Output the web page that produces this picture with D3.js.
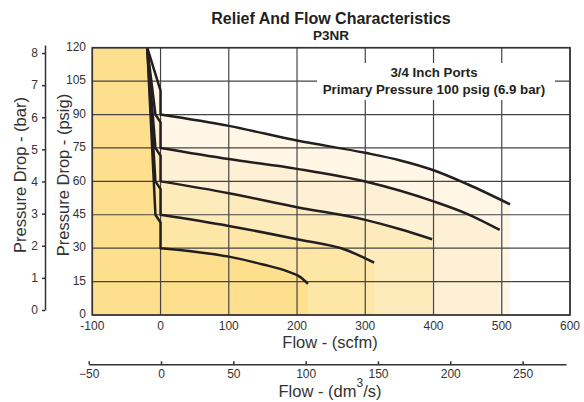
<!DOCTYPE html>
<html lang="en">
<head>
    <meta charset="UTF-8">
    <title>Relief And Flow Characteristics - P3NR</title>
    <script src="https://cdn.jsdelivr.net/npm/d3@7"></script>
    <style>
        body{margin:0;background:#fff;}
        text{
            font-family: "Liberation Sans", Arial, sans-serif;
            fill: #333;
        }
    </style>
</head>
<body>
<div class="container"></div>
<script>
    ////////////////////////////////////////////////////////////////
    /*                     Data                */
    ////////////////////////////////////////////////////////////////

    const psiTicks = [0, 15, 30, 45, 60, 75, 90, 105, 120]
    const barTicks = [0, 1, 2, 3, 4, 5, 6, 7, 8]
    const scfmTicks = [-100, 0, 100, 200, 300, 400, 500, 600]
    const dm3Ticks = [-50, 0, 50, 100, 150, 200, 250]

    // relief part of each curve [scfm, psig]
    const relief30 = [[-19.5,120],[-7.5,45],[0,41.5],[0,30]]
    const relief45 = [[-19.5,120],[-7.5,60],[0,56.5],[0,45]]
    const relief60 = [[-19.5,120],[-7.5,75],[0,71.5],[0,60]]
    const relief75 = [[-19.5,120],[-7.5,90],[0,86.5],[0,75]]
    const relief90 = [[-19.5,120],[0,100.7],[0,90]]

    // flow part of each curve [scfm, psig]
    const flow30 = [[0,30],[100,26.2],[150,22.7],[185,19.7],[205,17],[216,14]]
    const flow45 = [[0,45],[100,40],[200,34],[272,29.2],[313,23.5]]
    const flow60 = [[0,60],[100,54.7],[200,48.4],[300,42.7],[350,38.6],[398,34]]
    const flow75 = [[0,75],[100,70],[200,65.6],[300,59.9],[400,51],[450,45.3],[497,38.2]]
    const flow90 = [[0,90],[100,84.9],[200,78.3],[300,72.8],[350,69.5],[400,65],[450,58.7],[512,49.7]]

    const setPoints = [90, 75, 60, 45, 30]
    const reliefs = [relief90, relief75, relief60, relief45, relief30]
    const flows = [flow90, flow75, flow60, flow45, flow30]
    const fills = ["#fff6e6", "#fef0d4", "#feebbb", "#fde6a6", "#fddf8e"]

    ////////////////////////////////////////////////////////////////
    /*                 Scales and container                       */
    ////////////////////////////////////////////////////////////////

    const svg = d3.select('.container')
        .append("svg")
        .attr("width", 584)
        .attr("height", 402)

    const x = d3.scaleLinear().domain([-100, 600]).range([92.3, 570])
    const y = d3.scaleLinear().domain([0, 120]).range([315, 47.7])
    const yBar = d3.scaleLinear().domain([0, 8.25]).range([310, 45])
    const xDm3 = d3.scaleLinear().domain([-50, 280]).range([88.7, 566])

    const relLine = d3.line().x(d => x(d[0])).y(d => y(d[1]))
    const flowLine = d3.line().x(d => x(d[0])).y(d => y(d[1])).curve(d3.curveMonotoneX)

    // full path: straight relief segment, then the smooth flow curve
    const curvePath = i => relLine(reliefs[i]) + flowLine(flows[i]).replace(/^M/, "L")

    ////////////////////////////////////////////////////////////////
    /*                    Shaded regions                          */
    ////////////////////////////////////////////////////////////////

    const regions = svg.append("g")
    setPoints.forEach((p, i) => {
        const last = flows[i][flows[i].length - 1]
        regions.append("path")
            .attr("d", curvePath(i) + `L${x(last[0])},${y(0)}L${x(-19.5)},${y(0)}Z`)
            .attr("fill", fills[i])
    })
    regions.append("rect")
        .attr("x", x(-100)).attr("y", y(120))
        .attr("width", x(-19.5) - x(-100)).attr("height", y(0) - y(120))
        .attr("fill", fills[4])

    ////////////////////////////////////////////////////////////////
    /*                         Grid                              */
    ////////////////////////////////////////////////////////////////

    const grid = svg.append("g").attr("stroke", "#444").attr("stroke-width", 1.2)
    grid.selectAll(".h").data(psiTicks).join("line")
        .attr("x1", x(-100)).attr("x2", x(600))
        .attr("y1", d => y(d)).attr("y2", d => y(d))
    grid.selectAll(".v").data(scfmTicks).join("line")
        .attr("x1", d => x(d)).attr("x2", d => x(d))
        .attr("y1", y(0)).attr("y2", y(120))

    // note box
    svg.append("rect").attr("x", 317).attr("y", 63).attr("width", 238).attr("height", 37).attr("fill", "#fff")
    svg.append("text").attr("x", 434).attr("y", 77).attr("text-anchor", "middle")
        .style("font-size", "13.3px").style("font-weight", "bold").style("fill", "#231f20")
        .text("3/4 Inch Ports")
    svg.append("text").attr("x", 434).attr("y", 93.5).attr("text-anchor", "middle")
        .style("font-size", "13.3px").style("font-weight", "bold").style("fill", "#231f20")
        .text("Primary Pressure 100 psig (6.9 bar)")

    ////////////////////////////////////////////////////////////////
    /*                         Curves                             */
    ////////////////////////////////////////////////////////////////

    svg.append("g").selectAll("path").data(setPoints).join("path")
        .attr("d", (d, i) => curvePath(i))
        .attr("fill", "none")
        .attr("stroke", "#231f20")
        .attr("stroke-width", 2.5)
        .attr("stroke-linejoin", "round")

    // plot frame
    svg.append("rect")
        .attr("x", x(-100)).attr("y", y(120))
        .attr("width", x(600) - x(-100)).attr("height", y(0) - y(120))
        .attr("fill", "none").attr("stroke", "#333").attr("stroke-width", 1.6)

    ////////////////////////////////////////////////////////////////
    /*                      Axes and labels                       */
    ////////////////////////////////////////////////////////////////

    svg.append("g").selectAll("text").data(psiTicks).join("text")
        .attr("x", 86).attr("y", d => y(d) - 1).attr("dy", "0.35em")
        .attr("text-anchor", "end").style("font-size", "12px")
        .text(d => d)

    svg.append("g").selectAll("text").data(scfmTicks).join("text")
        .attr("x", d => x(d)).attr("y", 329.5)
        .attr("text-anchor", "middle").style("font-size", "12px")
        .text(d => d)

    const barAxis = svg.append("g").attr("transform", "translate(45,0)")
        .call(d3.axisLeft(yBar).tickValues(barTicks).tickSizeInner(3).tickSizeOuter(0).tickPadding(4))
    const dm3Axis = svg.append("g").attr("transform", "translate(0,364.3)")
        .call(d3.axisBottom(xDm3).tickValues(dm3Ticks).tickSizeInner(-3).tickSizeOuter(0).tickPadding(5))
    ;[barAxis, dm3Axis].forEach(a => {
        a.selectAll("path, line").attr("stroke", "#333").attr("stroke-width", 1.5)
        a.selectAll("text").style("font-size", "12px").style("font-family", "Liberation Sans, Arial, sans-serif").attr("fill", "#333")
    })

    svg.append("text").attr("transform", "translate(20,175)rotate(-90)")
        .attr("text-anchor", "middle").attr("dy", "0.35em").style("font-size", "16.5px")
        .text("Pressure Drop - (bar)")
    svg.append("text").attr("transform", "translate(63,175)rotate(-90)")
        .attr("text-anchor", "middle").attr("dy", "0.35em").style("font-size", "16.5px")
        .text("Pressure Drop - (psig)")

    svg.append("text").attr("x", 330).attr("y", 347.5).attr("text-anchor", "middle")
        .style("font-size", "16.5px").text("Flow - (scfm)")
    const dmLabel = svg.append("text").attr("x", 330).attr("y", 397).attr("text-anchor", "middle")
        .style("font-size", "16.5px")
    dmLabel.append("tspan").text("Flow - (dm")
    dmLabel.append("tspan").attr("dy", -10).style("font-size", "12px").text("3")
    dmLabel.append("tspan").attr("dy", 10).text("/s)")

    svg.append("text").attr("x", 331).attr("y", 24).attr("text-anchor", "middle")
        .style("font-size", "16px").style("font-weight", "bold").style("fill", "#231f20")
        .text("Relief And Flow Characteristics")
    svg.append("text").attr("x", 331).attr("y", 39.5).attr("text-anchor", "middle")
        .style("font-size", "13.5px").style("font-weight", "bold").style("fill", "#231f20")
        .text("P3NR")
</script>
</body>
</html>
